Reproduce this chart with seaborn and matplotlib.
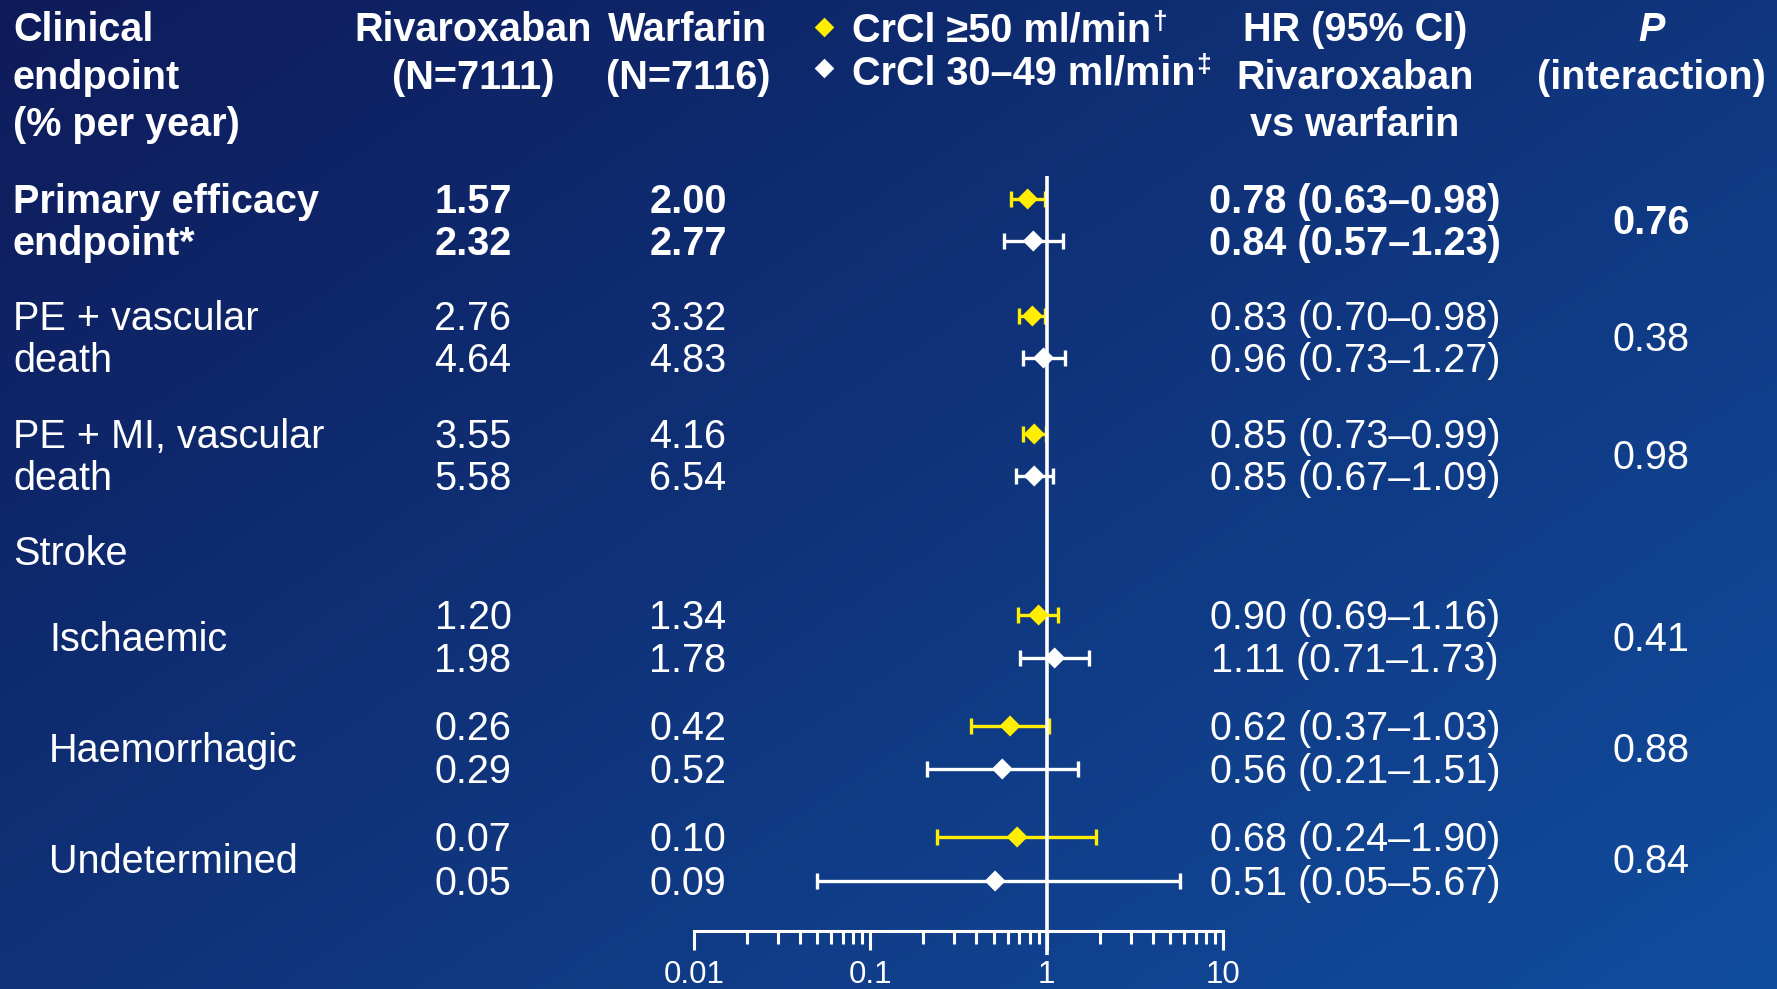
import numpy as np
import pandas as pd
import matplotlib
matplotlib.use("Agg")
import matplotlib.pyplot as plt
from matplotlib.ticker import NullFormatter
import seaborn as sns

sns.set_theme(style="white")
plt.rcParams['font.family'] = ['Liberation Sans', 'DejaVu Sans']

# ---- data ----
endpoints = ["Primary efficacy\nendpoint*", "PE + vascular\ndeath",
             "PE + MI, vascular\ndeath", "Ischaemic", "Haemorrhagic",
             "Undetermined"]
groups = ["CrCl \u226550 ml/min", "CrCl 30\u201349 ml/min"]
group_marks = ["\u2020", "\u2021"]
riva_rate = [[1.57, 2.32], [2.76, 4.64], [3.55, 5.58],
             [1.20, 1.98], [0.26, 0.29], [0.07, 0.05]]
warf_rate = [[2.00, 2.77], [3.32, 4.83], [4.16, 6.54],
             [1.34, 1.78], [0.42, 0.52], [0.10, 0.09]]
hr = [[0.78, 0.84], [0.83, 0.96], [0.85, 0.85],
      [0.90, 1.11], [0.62, 0.56], [0.68, 0.51]]
ci_low = [[0.63, 0.57], [0.70, 0.73], [0.73, 0.67],
          [0.69, 0.71], [0.37, 0.21], [0.24, 0.05]]
ci_high = [[0.98, 1.23], [0.98, 1.27], [0.99, 1.09],
           [1.16, 1.73], [1.03, 1.51], [1.90, 5.67]]
p_inter = [0.76, 0.38, 0.98, 0.41, 0.88, 0.84]
xticks = [0.01, 0.1, 1, 10]
xticklabels = ["0.01", "0.1", "1", "10"]

# ---- layout (pixels) ----
W, H = 1777, 989
row_y = [(199, 241), (316, 358), (434, 476), (615, 658), (726, 769), (837, 881)]
stroke_y = 551
label_x = [13, 13, 13, 49, 49, 49]
col_riva, col_warf, col_hr, col_p = 473, 688, 1355, 1651
ax_x0, ax_x1, axis_y = 694, 1223, 931
yellow = "#FFEE00"
colors = [yellow, "white"]
fs = 28.5

fig = plt.figure(figsize=(W / 100, H / 100), dpi=100)

# background gradient
bg = fig.add_axes([0, 0, 1, 1])
yy, xx = np.mgrid[0:1:200j, 0:1:360j]
t = np.clip((0.6 * xx + 0.5 * yy) / 1.1, 0, 1)[..., None]
c0 = np.array([0x0e, 0x1b, 0x5a]) / 255
c1 = np.array([0x11, 0x4d, 0x9e]) / 255
bg.imshow(c0 + (c1 - c0) * t, extent=(0, W, H, 0), aspect='auto')
bg.set_xlim(0, W)
bg.set_ylim(H, 0)
bg.axis('off')


def put(x, y, s, ha='left', bold=False, size=fs, italic=False):
    # y is the visual centre of the cap height
    return bg.text(x, y + 0.358 * size * 100 / 72, s, ha=ha, va='baseline',
                   color='white', fontsize=size,
                   fontweight='bold' if bold else 'normal',
                   fontstyle='italic' if italic else 'normal')


# header
for yh, s in zip([27, 75, 122], ["Clinical", "endpoint", "(% per year)"]):
    put(13, yh, s, bold=True)
for yh, s in zip([27, 75], ["Rivaroxaban", "(N=7111)"]):
    put(col_riva, yh, s, ha='center', bold=True)
for yh, s in zip([27, 75], ["Warfarin", "(N=7116)"]):
    put(col_warf, yh, s, ha='center', bold=True)
for yh, s in zip([27, 75, 122], ["HR (95% CI)", "Rivaroxaban", "vs warfarin"]):
    put(col_hr, yh, s, ha='center', bold=True)
put(col_p, 27, "P", ha='center', bold=True, italic=True)
put(col_p, 75, "(interaction)", ha='center', bold=True)

# legend
for yl, ym, g, mk, c in zip([27, 70], [27, 68], groups, group_marks, colors):
    bg.scatter([824], [ym], marker='D', s=100, color=c, linewidths=0)
    txt = put(852, yl, g, bold=True)
    bg.annotate(mk, xy=(1.0, 1.0), xycoords=txt, xytext=(0.5, 1),
                textcoords='offset points', ha='left', va='top',
                color='white', fontsize=19, fontweight='bold')

# table rows
for i, ep in enumerate(endpoints):
    bold = i == 0
    lines = ep.split("\n")
    if len(lines) == 2:
        for yl, s in zip(row_y[i], lines):
            put(label_x[i], yl, s, bold=bold)
    else:
        put(label_x[i], np.mean(row_y[i]), ep, bold=bold)
    for j in range(2):
        yr = row_y[i][j]
        put(col_riva, yr, f"{riva_rate[i][j]:.2f}", ha='center', bold=bold)
        put(col_warf, yr, f"{warf_rate[i][j]:.2f}", ha='center', bold=bold)
        put(col_hr, yr, f"{hr[i][j]:.2f} ({ci_low[i][j]:.2f}\u2013{ci_high[i][j]:.2f})",
            ha='center', bold=bold)
    put(col_p, np.mean(row_y[i]), f"{p_inter[i]:.2f}", ha='center', bold=bold)
put(13, stroke_y, "Stroke")

# forest axes
fx = fig.add_axes([ax_x0 / W, 1 - axis_y / H, (ax_x1 - ax_x0) / W, axis_y / H])
fx.patch.set_visible(False)
fx.set_xscale('log')
fx.set_xlim(0.01, 10)
fx.set_ylim(axis_y, 0)
for s in ['top', 'left', 'right']:
    fx.spines[s].set_visible(False)
fx.spines['bottom'].set_color('white')
fx.spines['bottom'].set_linewidth(2.2)
fx.set_xticks(xticks)
fx.set_xticklabels(xticklabels)
fx.xaxis.set_minor_formatter(NullFormatter())
fx.set_yticks([])
fx.tick_params(axis='x', which='major', direction='out', length=13.7, width=2.2,
               color='white', labelcolor='white', labelsize=22.5, pad=7, bottom=True)
fx.tick_params(axis='x', which='minor', direction='out', length=9.4, width=2.2,
               color='white', bottom=True)

recs = []
for i, ep in enumerate(endpoints):
    for j, g in enumerate(groups):
        recs.append(dict(endpoint=ep, group=g, hr=hr[i][j], lo=ci_low[i][j],
                         hi=ci_high[i][j], y=row_y[i][j]))
df = pd.DataFrame(recs)

for g, c in zip(groups, colors):
    sub = df[df.group == g]
    fx.errorbar(sub.hr, sub.y, xerr=[sub.hr - sub.lo, sub.hi - sub.hr],
                fmt='none', ecolor=c, elinewidth=2.4, capsize=5.6,
                capthick=2.4, clip_on=False, zorder=2)

fx.vlines(1, 176, 955, color='white', linewidth=2.6, clip_on=False, zorder=2.5)

sns.scatterplot(data=df, x='hr', y='y', hue='group', palette=dict(zip(groups, colors)),
                marker='D', s=115, linewidth=0, legend=False, ax=fx, zorder=3,
                clip_on=False)
fx.set_xlabel("")
fx.set_ylabel("")

fig.savefig("out.png", dpi=100)
